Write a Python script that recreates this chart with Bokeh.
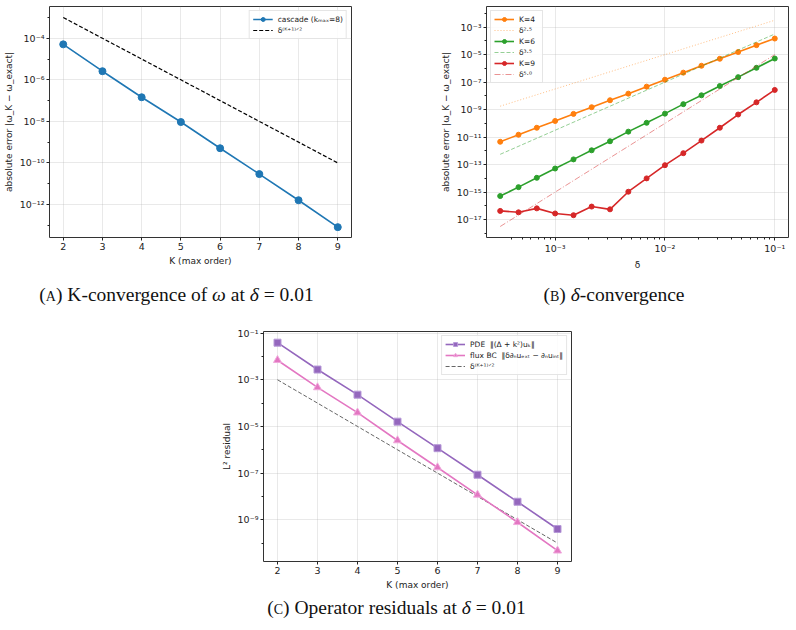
from bokeh.plotting import figure
from bokeh.models import (Range1d, FixedTicker, CustomJSTickFormatter, Legend,
                          LegendItem, Div, Spacer)
from bokeh.layouts import column, row
from bokeh.embed import file_html
from bokeh.resources import INLINE

# ---------------- data ----------------
K = [2, 3, 4, 5, 6, 7, 8, 9]
k_ticks = [2, 3, 4, 5, 6, 7, 8, 9]
omega_err = [5.1e-5, 2.6e-6, 1.45e-7, 9.3e-9, 5.1e-10, 2.9e-11, 1.6e-12, 8.1e-14]
ref_K = [1e-3, 1e-4, 1e-5, 1e-6, 1e-7, 1e-8, 1e-9, 1e-10]   # delta^((K+1)/2), delta=0.01

delta = [3.16e-4, 4.64e-4, 6.81e-4, 1.0e-3, 1.47e-3, 2.15e-3, 3.16e-3, 4.64e-3,
         6.81e-3, 1.0e-2, 1.47e-2, 2.15e-2, 3.16e-2, 4.64e-2, 6.81e-2, 1.0e-1]
err_K4 = [4.6e-12, 1.5e-11, 4.8e-11, 1.5e-10, 4.9e-10, 1.5e-9, 4.8e-9, 1.45e-8,
          4.7e-8, 1.5e-7, 4.9e-7, 1.55e-6, 5.0e-6, 1.55e-5, 4.9e-5, 1.48e-4]
err_K6 = [5.2e-16, 2.3e-15, 1.1e-14, 5.2e-14, 2.4e-13, 1.1e-12, 5.0e-12, 2.5e-11,
          1.1e-10, 5.1e-10, 2.5e-9, 1.1e-8, 5.2e-8, 2.3e-7, 1.1e-6, 5.2e-6]
err_K9 = [4.3e-17, 3.4e-17, 6.6e-17, 2.8e-17, 2.1e-17, 8.9e-17, 5.6e-17, 1.07e-15,
          1.0e-14, 9.1e-14, 6.8e-13, 5.6e-12, 4.8e-11, 4.4e-10, 3.4e-9, 2.7e-8]
ref_delta = [3.16e-4, 1.0e-1]
ref_p25 = [1.78e-9, 3.16e-3]
ref_p35 = [5.62e-13, 3.16e-4]
ref_p50 = [3.16e-18, 1.0e-5]

res_pde = [3.9e-2, 2.75e-3, 2.3e-4, 1.6e-5, 1.17e-6, 8.5e-8, 5.9e-9, 4.0e-10]
res_flux = [6.9e-3, 4.7e-4, 3.9e-5, 2.5e-6, 1.74e-7, 1.17e-8, 7.8e-10, 4.7e-11]

yticks_A = [1e-12, 1e-10, 1e-8, 1e-6, 1e-4]
yminor_A = [1e-13, 1e-11, 1e-9, 1e-7, 1e-5, 1e-3]
xticks_B = [1e-3, 1e-2, 1e-1]
xminor_B = [4e-4, 5e-4, 6e-4, 7e-4, 8e-4, 9e-4, 2e-3, 3e-3, 4e-3, 5e-3, 6e-3, 7e-3,
            8e-3, 9e-3, 2e-2, 3e-2, 4e-2, 5e-2, 6e-2, 7e-2, 8e-2, 9e-2]
yticks_B = [1e-17, 1e-15, 1e-13, 1e-11, 1e-9, 1e-7, 1e-5, 1e-3]
yminor_B = [1e-18, 1e-16, 1e-14, 1e-12, 1e-10, 1e-8, 1e-6, 1e-4, 1e-2]
yticks_C = [1e-9, 1e-7, 1e-5, 1e-3, 1e-1]
yminor_C = [1e-10, 1e-8, 1e-6, 1e-4, 1e-2]

FONT = "DejaVu Sans"
BLUE, ORANGE, GREEN, RED = "#1f77b4", "#ff7f0e", "#2ca02c", "#d62728"
PURPLE, PINK = "#9467bd", "#e377c2"

SUP_JS = """
const e = Math.round(Math.log10(tick));
const m = {"-":"\u207b","0":"\u2070","1":"\u00b9","2":"\u00b2","3":"\u00b3","4":"\u2074",
           "5":"\u2075","6":"\u2076","7":"\u2077","8":"\u2078","9":"\u2079"};
return "10" + String(e).split("").map(c => m[c]).join("");
"""


def base_fig(width, height, xr, yr, xtype, ytype, left, right, top, bottom):
    p = figure(width=width, height=height, x_range=xr, y_range=yr,
               x_axis_type=xtype, y_axis_type=ytype, title=None,
               output_backend="svg", toolbar_location=None,
               min_border_left=left, min_border_right=right,
               min_border_top=top, min_border_bottom=bottom)
    p.outline_line_color = "#333333"
    p.outline_line_width = 1
    p.background_fill_color = "white"
    p.border_fill_color = "white"
    p.axis.axis_line_color = None
    p.axis.major_tick_line_color = "#222222"
    p.axis.minor_tick_line_color = "#222222"
    p.axis.major_tick_out = 3
    p.axis.major_tick_in = 0
    p.axis.minor_tick_out = 2
    p.axis.minor_tick_in = 0
    p.axis.major_label_text_font = FONT
    p.axis.major_label_text_font_size = "9.5px"
    p.axis.major_label_text_color = "#222222"
    p.axis.major_label_standoff = 2
    p.axis.axis_label_text_font = FONT
    p.axis.axis_label_text_font_size = "9px"
    p.axis.axis_label_text_font_style = "normal"
    p.axis.axis_label_text_color = "#222222"
    p.axis.axis_label_standoff = 3
    p.grid.grid_line_color = "#b0b0b0"
    p.grid.grid_line_alpha = 0.35
    p.grid.grid_line_width = 0.8
    return p


def style_legend(lg, loc):
    lg.location = loc
    lg.margin = 4
    lg.padding = 3
    lg.spacing = 1
    lg.glyph_width = 20
    lg.glyph_height = 10
    lg.label_height = 10
    lg.label_standoff = 5
    lg.label_text_font = FONT
    lg.label_text_font_size = "7.5px"
    lg.label_text_color = "#222222"
    lg.border_line_color = "#cccccc"
    lg.border_line_width = 1
    lg.background_fill_alpha = 0.85


# ---------------- panel A ----------------
pA = base_fig(400, 272, Range1d(1.65, 9.35), Range1d(10 ** -13.59, 10 ** -2.47),
              "linear", "log", 49, 49, 6, 35)
pA.xaxis.ticker = FixedTicker(ticks=k_ticks, minor_ticks=[])
pA.yaxis.ticker = FixedTicker(ticks=yticks_A, minor_ticks=yminor_A)
pA.yaxis.formatter = CustomJSTickFormatter(code=SUP_JS)
pA.xaxis.axis_label = "K (max order)"
pA.yaxis.axis_label = "absolute error |\u03c9_K \u2212 \u03c9_exact|"
la = pA.line(K, omega_err, line_color=BLUE, line_width=1.6)
sa = pA.scatter(K, omega_err, size=7, fill_color=BLUE, line_color=BLUE)
ra = pA.line(K, ref_K, line_color="black", line_width=1.2, line_dash="4 2")
legA = Legend(items=[LegendItem(label="cascade (k\u2098\u2090\u2093=8)", renderers=[la, sa]),
                     LegendItem(label="\u03b4\u207d\u1d37\u207a\u00b9\u207e\u141f\u00b2", renderers=[ra])])
style_legend(legA, "top_right")
pA.add_layout(legA)

# ---------------- panel B ----------------
pB = base_fig(396, 272, Range1d(10 ** -3.625, 10 ** -0.875), Range1d(10 ** -18.3, 10 ** -1.5),
              "log", "log", 86, 8, 6, 35)
pB.xaxis.ticker = FixedTicker(ticks=xticks_B, minor_ticks=xminor_B)
pB.yaxis.ticker = FixedTicker(ticks=yticks_B, minor_ticks=yminor_B)
pB.xaxis.formatter = CustomJSTickFormatter(code=SUP_JS)
pB.yaxis.formatter = CustomJSTickFormatter(code=SUP_JS)
pB.xaxis.axis_label = "\u03b4"
pB.yaxis.axis_label = "absolute error |\u03c9_K \u2212 \u03c9_exact|"
items = []
for lab, ys, col, rlab, rys, dash in [
        ("K=4", err_K4, ORANGE, "\u03b4\u00b2\u00b7\u2075", ref_p25, "1 2"),
        ("K=6", err_K6, GREEN, "\u03b4\u00b3\u00b7\u2075", ref_p35, "4 2"),
        ("K=9", err_K9, RED, "\u03b4\u2075\u00b7\u2070", ref_p50, "6 2 1 2")]:
    rl = pB.line(ref_delta, rys, line_color=col, line_width=1, line_alpha=0.5, line_dash=dash)
    l = pB.line(delta, ys, line_color=col, line_width=1.6)
    s = pB.scatter(delta, ys, size=5, fill_color=col, line_color=col)
    items.append(LegendItem(label=lab, renderers=[l, s]))
    items.append(LegendItem(label=rlab, renderers=[rl]))
legB = Legend(items=items)
style_legend(legB, "top_left")
pB.add_layout(legB)

# ---------------- panel C ----------------
pC = base_fig(796, 276, Range1d(1.65, 9.35), Range1d(10 ** -10.79, 10 ** -0.93),
              "linear", "log", 263, 225, 15, 30)
pC.xaxis.ticker = FixedTicker(ticks=k_ticks, minor_ticks=[])
pC.yaxis.ticker = FixedTicker(ticks=yticks_C, minor_ticks=yminor_C)
pC.yaxis.formatter = CustomJSTickFormatter(code=SUP_JS)
pC.xaxis.axis_label = "K (max order)"
pC.yaxis.axis_label = "L\u00b2 residual"
rc = pC.line(K, ref_K, line_color="#555555", line_width=0.9, line_dash="4 2")
lp = pC.line(K, res_pde, line_color=PURPLE, line_width=1.6)
sp = pC.scatter(K, res_pde, marker="square", size=7, fill_color=PURPLE, line_color="#b79ad8")
lf = pC.line(K, res_flux, line_color=PINK, line_width=1.6)
sf = pC.scatter(K, res_flux, marker="triangle", size=8, fill_color=PINK, line_color="#f0a8dc")
legC = Legend(items=[
    LegendItem(label="PDE  \u2016(\u0394 + k\u00b2)u\u2096\u2016", renderers=[lp, sp]),
    LegendItem(label="flux BC  \u2016\u03b4\u2202\u2099u\u2091\u2093\u209c \u2212 \u2202\u2099u\u1d62\u2099\u209c\u2016",
               renderers=[lf, sf]),
    LegendItem(label="\u03b4\u207d\u1d37\u207a\u00b9\u207e\u141f\u00b2", renderers=[rc])])
style_legend(legC, "top_right")
pC.add_layout(legC)

# ---------------- captions ----------------
CAP = {"font-family": "Liberation Serif", "font-size": "19.5px", "color": "#111111",
       "text-align": "center", "white-space": "nowrap"}
SC = '<span style="font-variant: small-caps">'
capA = Div(text=f'({SC}a</span>) K-convergence of <i>\u03c9</i> at <i>\u03b4</i> = 0.01',
           width=353, height=44, margin=0, styles=dict(CAP, **{"line-height": "46px"}))
capB = Div(text=f'({SC}b</span>) <i>\u03b4</i>-convergence',
           width=364, height=44, margin=0, styles=dict(CAP, **{"line-height": "46px"}))
capC = Div(text=f'({SC}c</span>) Operator residuals at <i>\u03b4</i> = 0.01',
           width=793, height=38, margin=0, styles=dict(CAP, **{"line-height": "32px"}))

layout = column(row(pA, pB),
                row(capA, Spacer(width=79, height=44), capB),
                pC,
                capC)

open("out.html", "w").write(file_html(layout, INLINE))
